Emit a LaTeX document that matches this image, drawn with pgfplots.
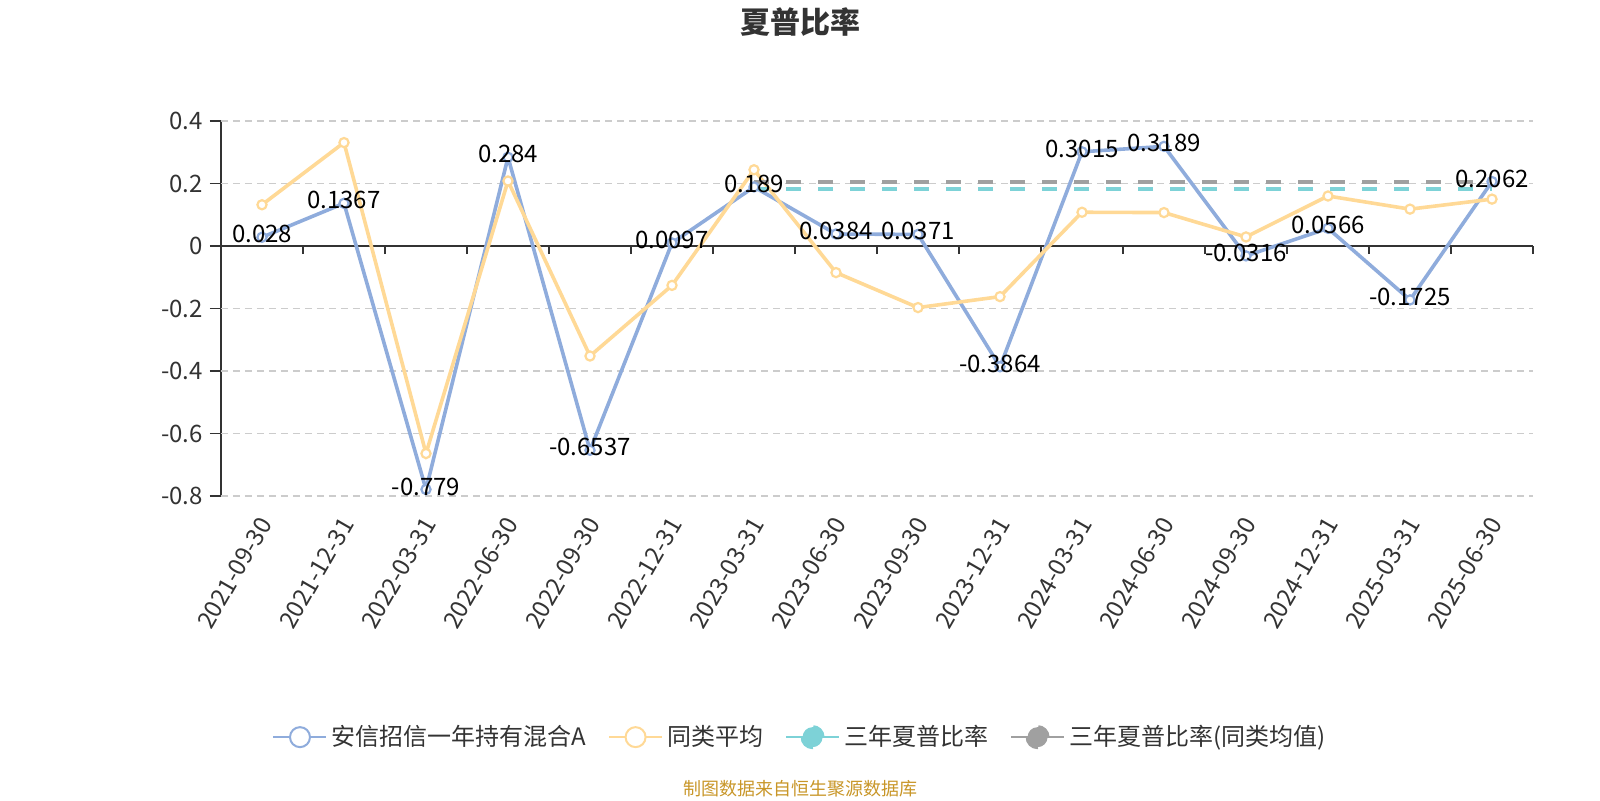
\documentclass[border=0pt]{standalone}
\usepackage{fontspec}
\setmainfont{Noto Sans CJK SC}
\usepackage{pgfplots}
\usepackage{pgfplotstable}
\pgfplotsset{compat=1.18}

\definecolor{fundc}{RGB}{143,172,220}
\definecolor{peerc}{RGB}{255,217,150}
\definecolor{tealc}{RGB}{125,210,215}
\definecolor{grayc}{RGB}{160,160,160}
\definecolor{axisc}{RGB}{51,51,51}
\definecolor{gridc}{RGB}{204,204,204}
\definecolor{footc}{RGB}{200,150,40}

% fund sharpe ratio, with the label text as printed
\pgfplotstableread{
x y lab
0 0.028 0.028
1 0.1367 0.1367
2 -0.779 -0.779
3 0.284 0.284
4 -0.6537 -0.6537
5 0.0097 0.0097
6 0.189 0.189
7 0.0384 0.0384
8 0.0371 0.0371
9 -0.3864 -0.3864
10 0.3015 0.3015
11 0.3189 0.3189
12 -0.0316 -0.0316
13 0.0566 0.0566
14 -0.1725 -0.1725
15 0.2062 0.2062
}\fund

% peer average
\pgfplotstableread{
x y
0 0.132
1 0.331
2 -0.664
3 0.208
4 -0.352
5 -0.126
6 0.244
7 -0.085
8 -0.197
9 -0.162
10 0.108
11 0.107
12 0.029
13 0.160
14 0.118
15 0.150
}\peer

\tikzset{lbl/.style={font=\fontsize{12}{14}\selectfont}}
\pgfplotsset{
  base/.style={
    scale only axis, width=656pt, height=187.5pt,
    xmin=-0.5, xmax=15.5, ymin=-0.8, ymax=0.4,
  },
}

\begin{document}
\begin{tikzpicture}
\path[use as bounding box] (-110.5pt,-152pt) rectangle (689.5pt,248pt);

% zero line with the category boundary ticks
\begin{axis}[base,
    axis x line=middle, axis y line=none,
    axis line style={-, draw=axisc, line width=0.8pt},
    xtick={0.5,1.5,...,15.5}, xticklabels={},
    xtick align=outside, major tick length=4pt,
    tick style={draw=axisc, line width=0.8pt},
    ytick=\empty,
  ]
\end{axis}

\begin{axis}[base,
    axis x line=bottom, axis y line=left,
    x axis line style={draw=none},
    y axis line style={-, draw=axisc, line width=0.8pt},
    xtick={0,...,15},
    xticklabels={2021-09-30,2021-12-31,2022-03-31,2022-06-30,2022-09-30,2022-12-31,2023-03-31,2023-06-30,2023-09-30,2023-12-31,2024-03-31,2024-06-30,2024-09-30,2024-12-31,2025-03-31,2025-06-30},
    x tick style={draw=none},
    x tick label style={lbl, text=axisc, rotate=60, anchor=east, xshift=-3.5pt, yshift=-6pt},
    ytick={-0.8,-0.6,-0.4,-0.2,0,0.2,0.4},
    yticklabels={-0.8,-0.6,-0.4,-0.2,0,0.2,0.4},
    y tick style={draw=axisc, line width=0.8pt},
    y tick label style={lbl, text=axisc},
    ytick align=outside, major tick length=5.5pt,
    extra y ticks={-0.8,-0.6,-0.4,-0.2,0.2,0.4},
    extra y tick labels={},
    extra y tick style={grid=major, tick style={draw=none}},
    grid style={gridc, dash pattern=on 3.5pt off 2.5pt, line width=0.7pt},
    clip=false,
    legend columns=4,
    legend cell align=left,
    legend style={at={(0.442,-0.643)}, anchor=center, draw=none, fill=none,
      lbl, text=axisc,
      /tikz/every even column/.append style={column sep=9pt}},
  ]

\addplot[fundc, line width=1.8pt, mark=*, mark size=2.3pt,
  mark options={fill=white, line width=1.1pt},
  legend image code/.code={
    \draw[fundc, solid, line width=1pt] (0pt,0pt) -- (26.5pt,0pt);
    \draw[fundc, solid, fill=white, line width=1pt] (13.25pt,0pt) circle (5pt);}]
  table[x=x, y=y] {\fund};
\addlegendentry{安信招信一年持有混合A}

\addplot[peerc, line width=1.8pt, mark=*, mark size=2.3pt,
  mark options={fill=white, line width=1.1pt},
  legend image code/.code={
    \draw[peerc, solid, line width=1pt] (0pt,0pt) -- (26.5pt,0pt);
    \draw[peerc, solid, fill=white, line width=1pt] (13.25pt,0pt) circle (5pt);}]
  table[x=x, y=y] {\peer};
\addlegendentry{同类平均}

\addplot[tealc, line width=2pt, dash pattern=on 7.5pt off 8.5pt, no marks,
  legend image code/.code={
    \draw[tealc, solid, line width=1pt] (0pt,0pt) -- (26.5pt,0pt);
    \fill[tealc] (13.25pt,0pt) circle (5pt);}]
  coordinates {(6,0.183) (15,0.183)};
\addlegendentry{三年夏普比率}

\addplot[grayc, line width=2pt, dash pattern=on 7.5pt off 8.5pt, no marks,
  legend image code/.code={
    \draw[grayc, solid, line width=1pt] (0pt,0pt) -- (26.5pt,0pt);
    \fill[grayc] (13.25pt,0pt) circle (5pt);}]
  coordinates {(6,0.206) (15,0.206)};
\addlegendentry{三年夏普比率(同类均值)}

% value labels on top of everything
\addplot[draw=none, no marks, forget plot,
  nodes near coords, point meta=explicit symbolic,
  nodes near coords style={anchor=center, yshift=1.5pt, lbl, text=black}]
  table[x=x, y=y, meta=lab] {\fund};

\end{axis}

\node[font=\bfseries\fontsize{15}{18}\selectfont, text=axisc] at (289.5pt,237pt) {夏普比率};
\node[font=\fontsize{9}{11}\selectfont, text=footc] at (289.5pt,-146.5pt) {制图数据来自恒生聚源数据库};
\end{tikzpicture}
\end{document}
